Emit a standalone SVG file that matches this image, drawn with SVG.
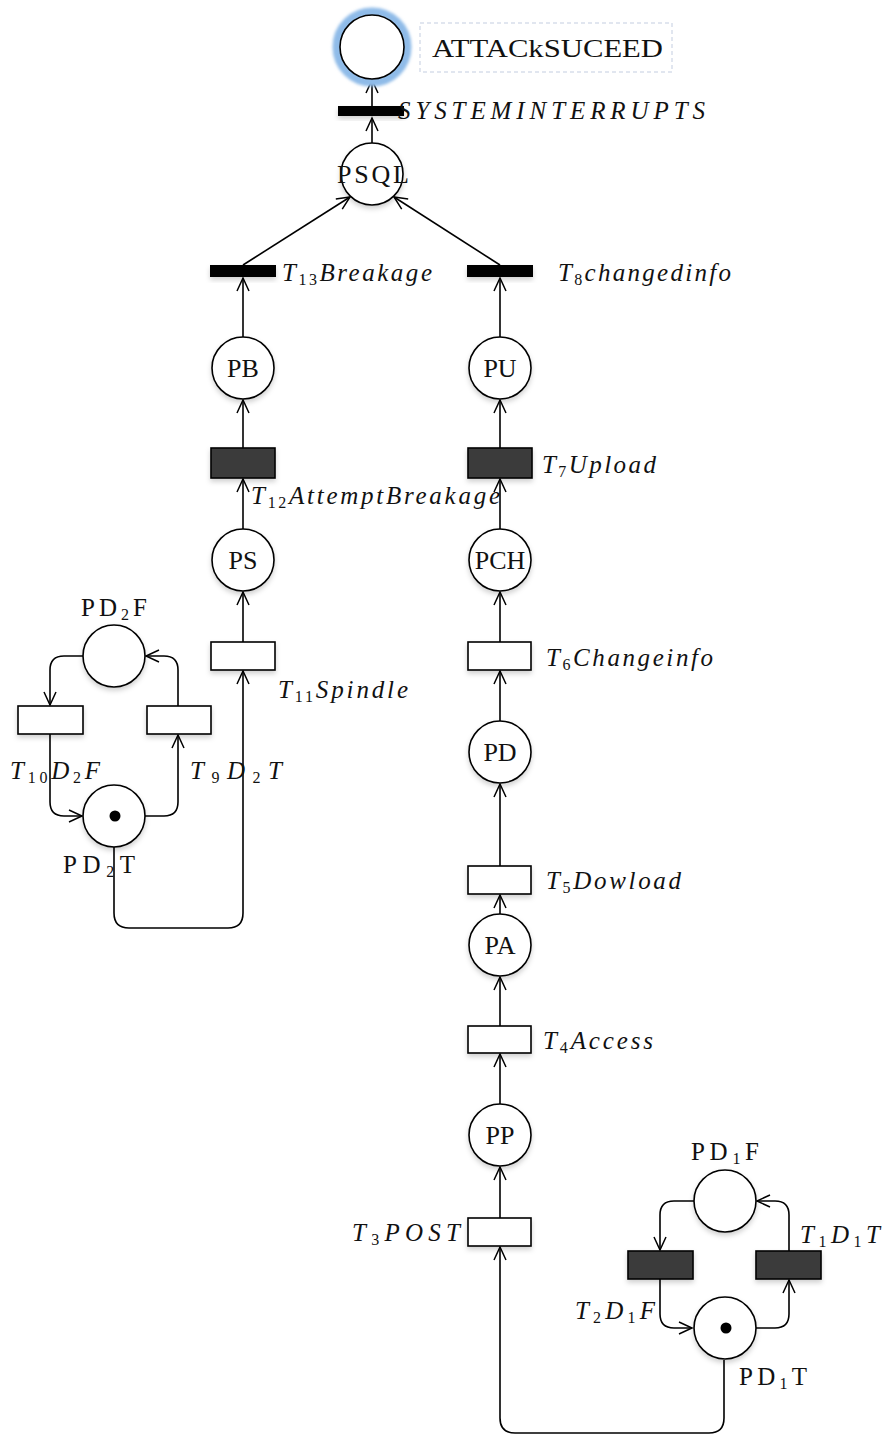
<svg xmlns="http://www.w3.org/2000/svg" width="882" height="1440" viewBox="0 0 882 1440">
<defs>
<marker id="arr" markerUnits="userSpaceOnUse" markerWidth="16" markerHeight="16" viewBox="-14 -8 16 16" refX="0" refY="0" orient="auto">
<path d="M -13 -6 L 0 0 L -13 6" fill="none" stroke="#000" stroke-width="1.5"/>
</marker>
<filter id="sh" x="-30%" y="-30%" width="160%" height="180%">
<feDropShadow dx="0" dy="3" stdDeviation="2.5" flood-color="#000" flood-opacity="0.18"/>
</filter>
<filter id="glow" x="-30%" y="-30%" width="160%" height="160%">
<feGaussianBlur stdDeviation="1.5"/>
</filter>
</defs>
<style>
.pl{fill:#fff;stroke:#000;stroke-width:1.6;filter:url(#sh)}
.tw{fill:#fff;stroke:#000;stroke-width:1.6;filter:url(#sh)}
.td{fill:#3a3a3a;stroke:#000;stroke-width:1.6;filter:url(#sh)}
.tb{fill:#000;filter:url(#sh)}
.c{fill:none;stroke:#000;stroke-width:1.6;marker-end:url(#arr)}
.n{font-family:"Liberation Serif","DejaVu Serif",serif;font-size:26px;fill:#111;text-anchor:middle}
.lu{font-family:"Liberation Serif","DejaVu Serif",serif;font-size:25px;fill:#111}
.li{font-family:"Liberation Serif","DejaVu Serif",serif;font-size:25px;font-style:italic;fill:#111}
.s{font-size:16px;font-style:normal}
</style>

<g id="connectors">
<path class="c" d="M372 143 V118"/>
<path class="c" d="M372 106 V80"/>
<path class="c" d="M243 265 L350 197"/>
<path class="c" d="M500 265 L394 197"/>
<path class="c" d="M243 337 V278"/>
<path class="c" d="M500 337 V278"/>
<path class="c" d="M243 448 V400"/>
<path class="c" d="M500 448 V400"/>
<path class="c" d="M243 529 V479"/>
<path class="c" d="M500 529 V479"/>
<path class="c" d="M243 642 V592"/>
<path class="c" d="M500 642 V592"/>
<path class="c" d="M500 721 V671"/>
<path class="c" d="M500 866 V784"/>
<path class="c" d="M500 914 V895"/>
<path class="c" d="M500 1026 V977"/>
<path class="c" d="M500 1104 V1054"/>
<path class="c" d="M500 1218 V1167"/>
<path class="c" d="M83 656 H64 Q50 656 50 670 V705"/>
<path class="c" d="M50 734 V802 Q50 816 64 816 H82"/>
<path class="c" d="M145 816 H164 Q178 816 178 802 V735"/>
<path class="c" d="M178 706 V670 Q178 656 164 656 H146"/>
<path class="c" d="M114 847 V913 Q114 928 129 928 H228 Q243 928 243 913 V671"/>
<path class="c" d="M694 1201 H674 Q660 1201 660 1215 V1250"/>
<path class="c" d="M660 1279 V1314 Q660 1328 674 1328 H692"/>
<path class="c" d="M756 1328 H775 Q789 1328 789 1314 V1280"/>
<path class="c" d="M789 1251 V1215 Q789 1201 775 1201 H757"/>
<path class="c" d="M724 1360 V1418 Q724 1433 709 1433 H515 Q500 1433 500 1418 V1247"/>
</g>

<g id="attack">
<circle cx="372" cy="47" r="35" fill="none" stroke="#8fbbe8" stroke-width="9" filter="url(#glow)"/>
<circle cx="372" cy="47" r="32" fill="#fff" stroke="#000" stroke-width="1.6"/>
<rect x="420" y="23" width="252" height="49" fill="none" stroke="#c3cde0" stroke-width="1" stroke-dasharray="4,3"/>
<text class="lu" x="432" y="57" textLength="231" lengthAdjust="spacingAndGlyphs">ATTACkSUCEED</text>
</g>

<g id="systeminterrupts">
<rect class="tb" x="338" y="106" width="66" height="10"/>
<text class="li" x="398" y="119" textLength="307" lengthAdjust="spacing">SYSTEMINTERRUPTS</text>
</g>

<g id="PSQL"><circle class="pl" cx="372" cy="174" r="31"/><text class="n" x="373" y="183" textLength="72" lengthAdjust="spacing">PSQL</text></g>

<g id="T13"><rect class="tb" x="210" y="265" width="66" height="12"/>
<text class="li" x="282" y="281" textLength="150" lengthAdjust="spacing">T<tspan class="s" dy="4">13</tspan><tspan dy="-4">Breakage</tspan></text></g>
<g id="T8"><rect class="tb" x="467" y="265" width="66" height="12"/>
<text class="li" x="558" y="281" textLength="173" lengthAdjust="spacing">T<tspan class="s" dy="4">8</tspan><tspan dy="-4">changedinfo</tspan></text></g>

<g id="PB"><circle class="pl" cx="243" cy="368" r="31"/><text class="n" x="243" y="377">PB</text></g>
<g id="PU"><circle class="pl" cx="500" cy="368" r="31"/><text class="n" x="500" y="377">PU</text></g>

<g id="T12"><rect class="td" x="211" y="448" width="64" height="30"/>
<text class="li" x="251" y="504" textLength="249" lengthAdjust="spacing">T<tspan class="s" dy="4">12</tspan><tspan dy="-4">AttemptBreakage</tspan></text></g>
<g id="T7"><rect class="td" x="468" y="448" width="64" height="30"/>
<text class="li" x="542" y="473" textLength="114" lengthAdjust="spacing">T<tspan class="s" dy="4">7</tspan><tspan dy="-4">Upload</tspan></text></g>

<g id="PS"><circle class="pl" cx="243" cy="560" r="31"/><text class="n" x="243" y="569">PS</text></g>
<g id="PCH"><circle class="pl" cx="500" cy="560" r="31"/><text class="n" x="500" y="569">PCH</text></g>

<g id="T11"><rect class="tw" x="211" y="642" width="64" height="28"/>
<text class="li" x="278" y="698" textLength="130" lengthAdjust="spacing">T<tspan class="s" dy="4">11</tspan><tspan dy="-4">Spindle</tspan></text></g>
<g id="T6"><rect class="tw" x="468" y="642" width="63" height="28"/>
<text class="li" x="546" y="666" textLength="167" lengthAdjust="spacing">T<tspan class="s" dy="4">6</tspan><tspan dy="-4">Changeinfo</tspan></text></g>

<g id="PD"><circle class="pl" cx="500" cy="752" r="31"/><text class="n" x="500" y="761">PD</text></g>

<g id="T5"><rect class="tw" x="468" y="866" width="63" height="28"/>
<text class="li" x="546" y="889" textLength="135" lengthAdjust="spacing">T<tspan class="s" dy="4">5</tspan><tspan dy="-4">Dowload</tspan></text></g>

<g id="PA"><circle class="pl" cx="500" cy="945" r="31"/><text class="n" x="500" y="954">PA</text></g>

<g id="T4"><rect class="tw" x="468" y="1026" width="63" height="27"/>
<text class="li" x="543" y="1049" textLength="110" lengthAdjust="spacing">T<tspan class="s" dy="4">4</tspan><tspan dy="-4">Access</tspan></text></g>

<g id="PP"><circle class="pl" cx="500" cy="1135" r="31"/><text class="n" x="500" y="1144">PP</text></g>

<g id="T3"><rect class="tw" x="468" y="1218" width="63" height="28"/>
<text class="li" x="352" y="1241" textLength="108" lengthAdjust="spacing">T<tspan class="s" dy="4">3</tspan><tspan dy="-4">POST</tspan></text></g>

<g id="PD2F"><circle class="pl" cx="114" cy="656" r="31"/>
<text class="lu" x="81" y="616" textLength="66" lengthAdjust="spacing">PD<tspan class="s" dy="4">2</tspan><tspan dy="-4">F</tspan></text></g>
<g id="T10"><rect class="tw" x="18" y="706" width="65" height="28"/>
<text class="li" x="10" y="779" textLength="90" lengthAdjust="spacing">T<tspan class="s" dy="4">10</tspan><tspan dy="-4">D</tspan><tspan class="s" dy="4">2</tspan><tspan dy="-4">F</tspan></text></g>
<g id="T9"><rect class="tw" x="147" y="706" width="64" height="28"/>
<text class="li" x="190" y="779" textLength="92" lengthAdjust="spacing">T<tspan class="s" dy="4">9</tspan><tspan dy="-4">D</tspan><tspan class="s" dy="4">2</tspan><tspan dy="-4">T</tspan></text></g>
<g id="PD2T"><circle class="pl" cx="114" cy="816" r="31"/><circle cx="115" cy="816" r="5.5" fill="#000"/>
<text class="lu" x="63" y="873" textLength="72" lengthAdjust="spacing">PD<tspan class="s" dy="4">2</tspan><tspan dy="-4">T</tspan></text></g>

<g id="PD1F"><circle class="pl" cx="725" cy="1201" r="31"/>
<text class="lu" x="691" y="1160" textLength="68" lengthAdjust="spacing">PD<tspan class="s" dy="4">1</tspan><tspan dy="-4">F</tspan></text></g>
<g id="T2"><rect class="td" x="628" y="1251" width="65" height="28"/>
<text class="li" x="575" y="1319" textLength="80" lengthAdjust="spacing">T<tspan class="s" dy="4">2</tspan><tspan dy="-4">D</tspan><tspan class="s" dy="4">1</tspan><tspan dy="-4">F</tspan></text></g>
<g id="T1"><rect class="td" x="756" y="1251" width="65" height="28"/>
<text class="li" x="800" y="1243" textLength="80" lengthAdjust="spacing">T<tspan class="s" dy="4">1</tspan><tspan dy="-4">D</tspan><tspan class="s" dy="4">1</tspan><tspan dy="-4">T</tspan></text></g>
<g id="PD1T"><circle class="pl" cx="725" cy="1328" r="31"/><circle cx="726" cy="1328" r="5.5" fill="#000"/>
<text class="lu" x="739" y="1385" textLength="68" lengthAdjust="spacing">PD<tspan class="s" dy="4">1</tspan><tspan dy="-4">T</tspan></text></g>
</svg>
